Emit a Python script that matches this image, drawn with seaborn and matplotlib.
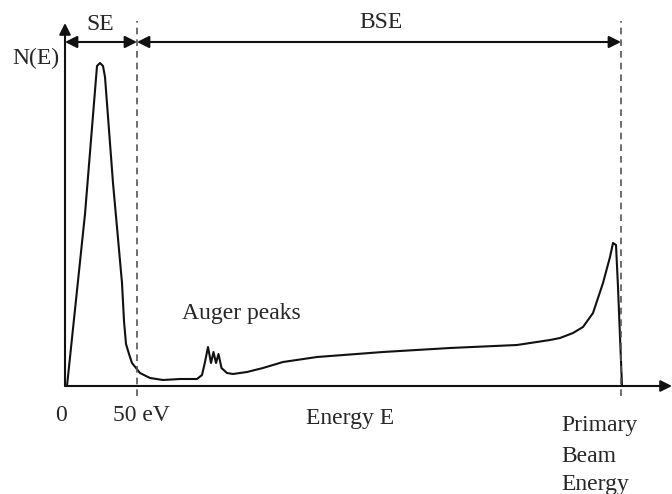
import matplotlib
matplotlib.use("Agg")
import matplotlib.pyplot as plt
import seaborn as sns
import pandas as pd

# Spectrum (arbitrary units): energy E and electron yield N(E)
energy = [2, 20, 32, 35, 38, 40, 48, 57, 59, 61, 64, 67, 75, 85, 98, 115, 132,
          137, 140, 143, 146, 148.5, 151, 153.5, 156.5, 162, 168, 182, 198, 218,
          252, 318, 385, 452, 485, 495, 508, 518, 528, 538, 545, 548, 551,
          553, 555, 557]
counts = [0, 172, 320, 323, 320, 309, 203, 103, 65, 42, 32, 23, 13, 8, 6, 7, 7,
          11, 24, 39, 23, 34, 23, 32, 18, 13, 12, 14, 18, 24,
          29, 34, 38, 41, 46, 48, 53, 59, 73, 103, 129, 143, 141,
          99, 49, 0]

boundary_se = 72      # 50 eV
boundary_pe = 556     # primary beam energy
axis_top = 363
axis_right = 607

tick_labels = ["0", "50 eV"]
region_labels = ["SE", "BSE"]
pe_label = ["Primary", "Beam", "Energy"]

sns.set_style("white")
plt.rcParams["font.family"] = ["Liberation Serif", "DejaVu Serif"]

fig = plt.figure(figsize=(6.72, 4.94), dpi=100)
ax = fig.add_axes([0, 0, 1, 1])
ax.set_xlim(-65, 607)
ax.set_ylim(-108, 386)
ax.axis("off")

df = pd.DataFrame({"E": energy, "N": counts})
sns.lineplot(data=df, x="E", y="N", sort=False, estimator=None,
             color="#111111", linewidth=1.5, ax=ax)

# axes with arrows
ax.annotate("", xy=(0, axis_top), xytext=(0, 0),
            arrowprops=dict(arrowstyle="-|>", color="#111111", lw=1.5,
                            mutation_scale=17, shrinkA=0, shrinkB=0))
ax.annotate("", xy=(axis_right, 0), xytext=(0, 0),
            arrowprops=dict(arrowstyle="-|>", color="#111111", lw=1.5,
                            mutation_scale=17, shrinkA=0, shrinkB=0))

# dashed boundaries
for xb in (boundary_se, boundary_pe):
    ax.plot([xb, xb], [-10, 365], color="#555555", lw=1.2,
            linestyle=(0, (4, 3)))

# region arrows
yarr = 344
ax.annotate("", xy=(0, yarr), xytext=(boundary_se, yarr),
            arrowprops=dict(arrowstyle="<|-|>", color="#111111", lw=1.5,
                            mutation_scale=18, shrinkA=0, shrinkB=0))
ax.annotate("", xy=(boundary_se, yarr), xytext=(boundary_pe, yarr),
            arrowprops=dict(arrowstyle="<|-|>", color="#111111", lw=1.5,
                            mutation_scale=18, shrinkA=0, shrinkB=0))

fs = 17
ax.text(boundary_se / 2 - 1, 362, region_labels[0], ha="center", va="center", fontsize=fs)
ax.text((boundary_se + boundary_pe) / 2 + 2, 363, region_labels[1], ha="center",
        va="center", fontsize=fs)
ax.text(-29, 328, "N(E)", ha="center", va="center", fontsize=fs)
ax.text(176, 73, "Auger peaks", ha="center", va="center", fontsize=fs)
ax.text(-4, -29, tick_labels[0], ha="center", va="center", fontsize=fs)
ax.text(boundary_se + 4, -29, tick_labels[1], ha="center", va="center", fontsize=fs)
ax.text(285, -32, "Energy E", ha="center", va="center", fontsize=fs)
for lab, yy in zip(pe_label, (-39, -70, -98)):
    ax.text(496, yy, lab, ha="left", va="center", fontsize=fs)

fig.savefig("out.png", dpi=100)
